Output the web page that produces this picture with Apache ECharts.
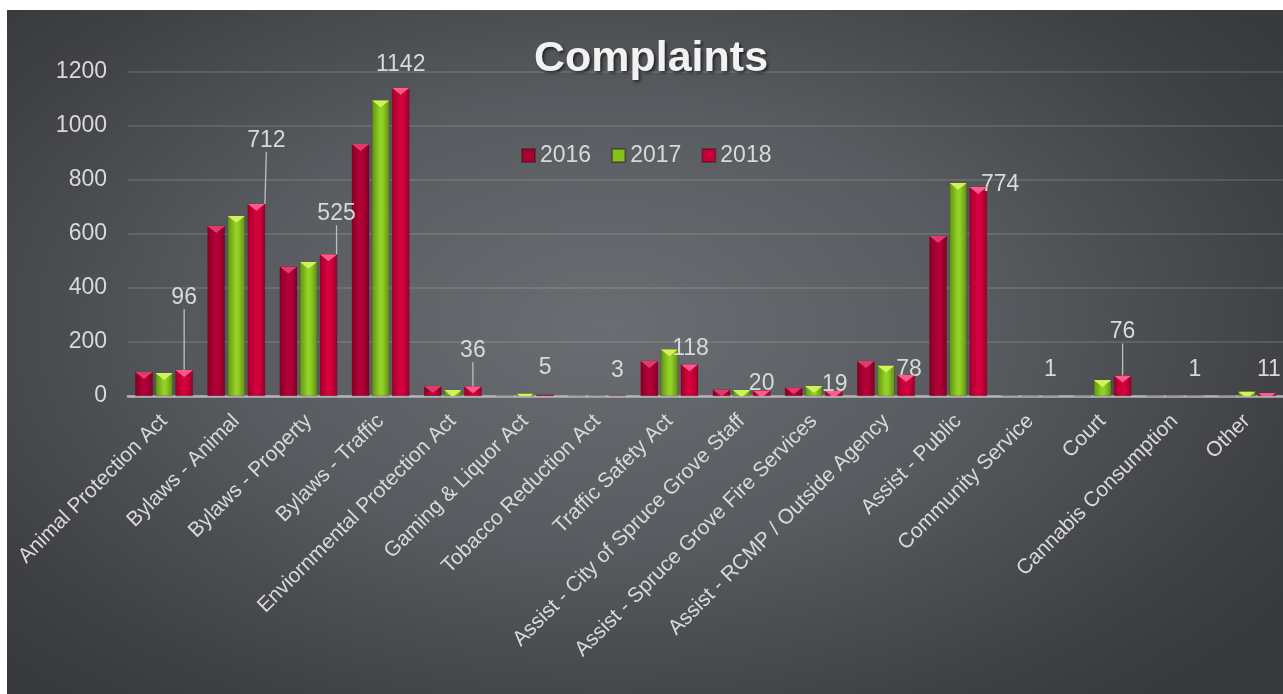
<!DOCTYPE html>
<html>
<head>
<meta charset="utf-8">
<script src="https://cdn.jsdelivr.net/npm/echarts@6/dist/echarts.min.js"></script>
<style>
  html, body { margin: 0; padding: 0; background: #ffffff; }
  #bg {
    position: absolute; left: 7px; top: 10px; width: 1276px; height: 684px;
    background: radial-gradient(ellipse 65% 72% at 47% 46%, #6a6d72 0%, #585b5f 45%, #3e4043 85%, #37393c 100%);
  }
  #main { position: absolute; left: 0; top: 0; width: 1283px; height: 694px; }
</style>
</head>
<body>
<div id="bg"></div>
<div id="main"></div>
<script>
// categories and yearly counts
const categories = [
  'Animal Protection Act', 'Bylaws - Animal', 'Bylaws - Property', 'Bylaws - Traffic',
  'Enviornmental Protection Act', 'Gaming & Liquor Act', 'Tobacco Reduction Act', 'Traffic Safety Act',
  'Assist - City of Spruce Grove Staff', 'Assist - Spruce Grove Fire Services',
  'Assist - RCMP / Outside Agency', 'Assist - Public', 'Community Service', 'Court',
  'Cannabis Consumption', 'Other'
];
const y2016 = [89, 630, 480, 933, 37, 1, 1, 130, 24, 32, 130, 593, 2, 0, 0, 0];
const y2017 = [85, 668, 497, 1095, 22, 9, 2, 173, 22, 37, 113, 790, 0, 59, 0, 17];
const y2018 = [96, 712, 525, 1142, 36, 5, 3, 118, 20, 19, 78, 774, 1, 76, 1, 11];
const years = ['2016', '2017', '2018'];

// where Excel put the 2018 data labels (shift from the default top position) and which ones had leader lines
const lblShift = [[0, -56], [10, -47], [8, -24], [0, -7], [0, -19], [0, -10], [0, -8], [1, 1],
  [0, 10], [1, 10], [3, 11], [22, 14], [0, -9], [0, -27], [0, -9], [2, -7]];
const leader = [1, 1, 1, 0, 1, 0, 0, 0, 0, 0, 0, 0, 0, 1, 0, 0];

const txt = '#d9d9d9';
const font = 'Liberation Sans';

function barGrad(edge, mid) {
  return new echarts.graphic.LinearGradient(0, 0, 1, 0, [
    { offset: 0, color: edge },
    { offset: 0.45, color: mid },
    { offset: 0.6, color: mid },
    { offset: 1, color: edge }
  ]);
}

const looks = [
  { edge: '#86001f', mid: '#b3003a', cap: '#e23a6c', flat: '#a8002f' },
  { edge: '#5f8f12', mid: '#93d126', cap: '#d2f25a', flat: '#84c21e' },
  { edge: '#9d0029', mid: '#d6003f', cap: '#ff5a8c', flat: '#c8003a' }
];
const allData = [y2016, y2017, y2018];

const series = [];
allData.forEach((arr, i) => {
  const s = {
    name: years[i],
    type: 'bar',
    barGap: '14%',
    barCategoryGap: '20%',
    itemStyle: { color: barGrad(looks[i].edge, looks[i].mid), borderColor: 'rgba(40,0,10,0.35)', borderWidth: 0.5 },
    data: arr.slice()
  };
  if (i === 2) {
    s.data = arr.map((v, k) => ({ value: v, labelLine: { show: !!leader[k] } }));
    s.label = { show: true, position: 'top', fontSize: 23, color: txt, fontFamily: font };
    s.labelLayout = p => ({ dx: lblShift[p.dataIndex][0], dy: lblShift[p.dataIndex][1] });
    s.labelLine = { show: true, lineStyle: { color: '#bfbfbf', width: 1.3 } };
  }
  series.push(s);
});
// the pointed caps on top of each bar
allData.forEach((arr, i) => {
  series.push({
    name: years[i],
    type: 'pictorialBar',
    barGap: '14%',
    barCategoryGap: '20%',
    symbol: 'path://M0,0 L10,0 L5,4 Z',
    symbolSize: ['100%', 7],
    symbolPosition: 'end',
    symbolClip: true,
    z: 3,
    itemStyle: { color: looks[i].cap },
    data: arr.map(v => (v >= 8 ? v : '-'))
  });
});

const chart = echarts.init(document.getElementById('main'), null, { renderer: 'canvas' });
chart.setOption({
  backgroundColor: 'transparent',
  animation: false,
  textStyle: { fontFamily: font },
  title: {
    text: 'Complaints',
    left: 646,
    textAlign: 'center',
    top: 33,
    textStyle: {
      fontSize: 43, fontWeight: 'bold', color: '#f2f2f2', fontFamily: font,
      textShadowColor: 'rgba(0,0,0,0.55)', textShadowBlur: 3, textShadowOffsetX: 2, textShadowOffsetY: 2
    }
  },
  legend: {
    top: 139,
    left: 516,
    itemWidth: 13,
    itemHeight: 13,
    itemGap: 20,
    icon: 'rect',
    textStyle: { fontSize: 23, color: txt, fontFamily: font },
    data: years.map((y, i) => ({ name: y, itemStyle: { color: looks[i].flat } }))
  },
  grid: { left: 128, right: -3, top: 72, bottom: 298, containLabel: false },
  xAxis: {
    type: 'category',
    data: categories,
    axisLine: { lineStyle: { color: '#b5b5b5', width: 2.5 } },
    axisTick: { show: false },
    axisLabel: { interval: 0, rotate: 45, fontSize: 21, color: txt, margin: 22, fontFamily: font }
  },
  yAxis: {
    type: 'value',
    min: 0,
    max: 1200,
    interval: 200,
    axisLine: { show: false },
    axisTick: { show: false },
    axisLabel: { fontSize: 23, color: txt, margin: 21, fontFamily: font, padding: [4, 0, 0, 0], formatter: v => String(v) },
    splitLine: { lineStyle: { color: 'rgba(200,200,200,0.22)', width: 1.5 } }
  },
  series: series
});
</script>
</body>
</html>
